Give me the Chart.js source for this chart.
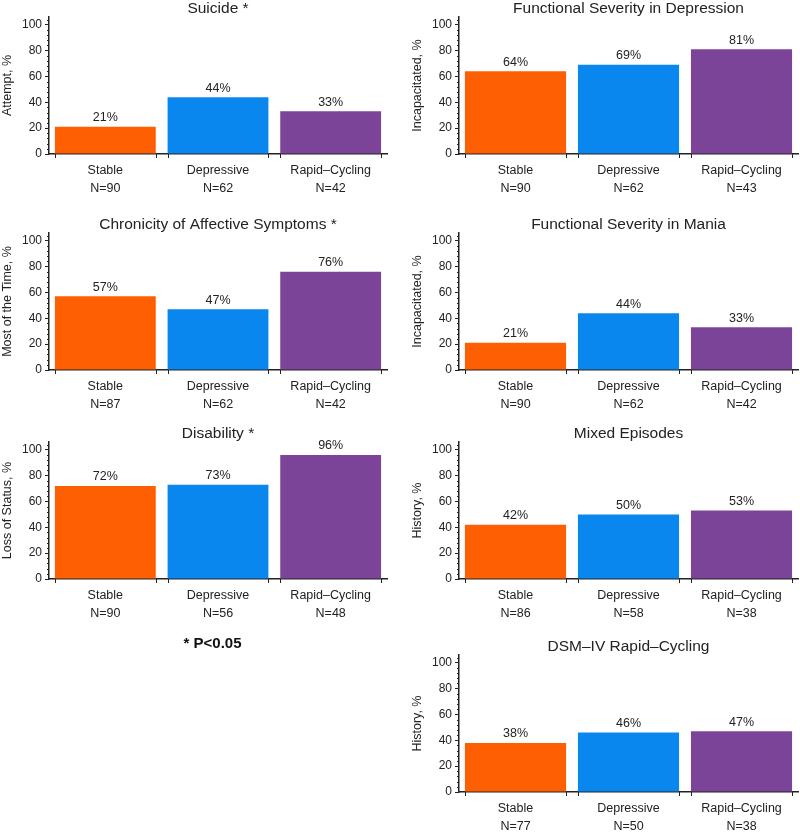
<!DOCTYPE html>
<html>
<head>
<meta charset="utf-8">
<script src="https://cdn.jsdelivr.net/npm/chart.js@4/dist/chart.umd.min.js"></script>
<style>
  body { margin: 0; background: #fff; width: 800px; height: 832px; position: relative; overflow: hidden; }
  .panel { position: absolute; height: 205px; }
  .left { left: 0; width: 400px; }
  .right { left: 410px; width: 390px; }
  #note { position: absolute; left: 0; width: 425px; top: 634px; text-align: center;
          font: bold 15px 'Liberation Sans', Arial, sans-serif; color: #111; }
</style>
</head>
<body>
<div class="panel left" style="top:0px"><canvas id="suicide"></canvas></div>
<div class="panel left" style="top:216px"><canvas id="chronicity"></canvas></div>
<div class="panel left" style="top:425px"><canvas id="disability"></canvas></div>
<div class="panel right" style="top:0px"><canvas id="depression"></canvas></div>
<div class="panel right" style="top:216px"><canvas id="mania"></canvas></div>
<div class="panel right" style="top:425px"><canvas id="mixed"></canvas></div>
<div class="panel right" style="top:638px"><canvas id="dsm"></canvas></div>
<div id="note">* P&lt;0.05</div>

<script>
const groups = ['Stable', 'Depressive', 'Rapid\u2013Cycling'];
const barColors = ['#FF5F03', '#0A86EF', '#7C4498'];
const yMajorTicks = [0, 20, 40, 60, 80, 100];

const suicideVals = [21, 44, 33];
const suicideN = [90, 62, 42];
const chronicityVals = [57, 47, 76];
const chronicityN = [87, 62, 42];
const disabilityVals = [72, 73, 96];
const disabilityN = [90, 56, 48];
const depressionVals = [64, 69, 81];
const depressionN = [90, 62, 43];
const maniaVals = [21, 44, 33];
const maniaN = [90, 62, 42];
const mixedVals = [42, 50, 53];
const mixedN = [86, 58, 38];
const dsmVals = [38, 46, 47];
const dsmN = [77, 50, 38];

const FONT = "'Liberation Sans', Arial, sans-serif";
const INK = '#222';

// value labels, minor y ticks and small x ticks at the bar edges
const decorPlugin = {
    id: 'decor',
    afterDraw(chart) {
        const ctx = chart.ctx;
        const area = chart.chartArea;
        const y = chart.scales.y;
        ctx.save();
        ctx.strokeStyle = INK;
        ctx.lineWidth = 1;
        // minor ticks on y axis
        for (let v = 4; v <= 104; v += 4) {
            if (v % 20 === 0) continue;
            const py = Math.round(y.getPixelForValue(v)) + 0.5;
            ctx.beginPath();
            ctx.moveTo(area.left - 2, py);
            ctx.lineTo(area.left, py);
            ctx.stroke();
        }
        const meta = chart.getDatasetMeta(0);
        const vals = chart.data.datasets[0].data;
        ctx.fillStyle = INK;
        ctx.font = '12.5px ' + FONT;
        ctx.textAlign = 'center';
        ctx.textBaseline = 'middle';
        meta.data.forEach((bar, i) => {
            ctx.fillText(vals[i] + '%', bar.x, bar.y - 9);
            [bar.x - bar.width / 2, bar.x + bar.width / 2].forEach(px => {
                const x = Math.round(px) + 0.5;
                ctx.beginPath();
                ctx.moveTo(x, area.bottom);
                ctx.lineTo(x, area.bottom + 4);
                ctx.stroke();
            });
        });
        ctx.restore();
    }
};

function makeChart(id, title, yTitle, values, ns, rightPad) {
    const labels = groups.map((g, i) => [g, 'N=' + ns[i]]);
    new Chart(document.getElementById(id), {
        type: 'bar',
        data: {
            labels: labels,
            datasets: [{
                data: values,
                backgroundColor: barColors,
                borderWidth: 0,
                categoryPercentage: 1,
                barPercentage: 0.895
            }]
        },
        plugins: [decorPlugin],
        options: {
            responsive: true,
            maintainAspectRatio: false,
            animation: false,
            layout: { padding: { left: 0, right: rightPad, top: 0, bottom: 0 } },
            plugins: {
                legend: { display: false },
                tooltip: { enabled: false },
                title: {
                    display: true,
                    fullSize: false,
                    text: title,
                    color: INK,
                    font: { family: FONT, size: 15.5, weight: 'normal', lineHeight: 1.1 },
                    padding: { top: 0, bottom: 0 }
                }
            },
            scales: {
                x: {
                    grid: { display: false, drawTicks: false },
                    border: { display: true, color: INK, width: 1.5 },
                    ticks: {
                        color: INK,
                        padding: 7,
                        maxRotation: 0,
                        font: { family: FONT, size: 12.5, lineHeight: 1.45 }
                    },
                    afterFit(scale) { scale.height = 51; }
                },
                y: {
                    min: 0,
                    max: 106,
                    grid: { drawOnChartArea: false, tickLength: 4, tickColor: INK },
                    border: { display: true, color: INK, width: 1.5 },
                    ticks: {
                        stepSize: 20,
                        includeBounds: false,
                        padding: 3,
                        color: INK,
                        font: { family: FONT, size: 12 },
                        callback: v => yMajorTicks.includes(v) ? v : ''
                    },
                    title: {
                        display: true,
                        text: yTitle,
                        color: INK,
                        padding: 0,
                        font: { family: FONT, size: 12.5 }
                    },
                    afterFit(scale) { scale.width = 49; }
                }
            }
        }
    });
}

makeChart('suicide', 'Suicide *', 'Attempt, %', suicideVals, suicideN, 13);
makeChart('chronicity', 'Chronicity of Affective Symptoms *', 'Most of the Time, %', chronicityVals, chronicityN, 13);
makeChart('disability', 'Disability *', 'Loss of Status, %', disabilityVals, disabilityN, 13);
makeChart('depression', 'Functional Severity in Depression', 'Incapacitated, %', depressionVals, depressionN, 2);
makeChart('mania', 'Functional Severity in Mania', 'Incapacitated, %', maniaVals, maniaN, 2);
makeChart('mixed', 'Mixed Episodes', 'History, %', mixedVals, mixedN, 2);
makeChart('dsm', 'DSM\u2013IV Rapid\u2013Cycling', 'History, %', dsmVals, dsmN, 2);
</script>
</body>
</html>
